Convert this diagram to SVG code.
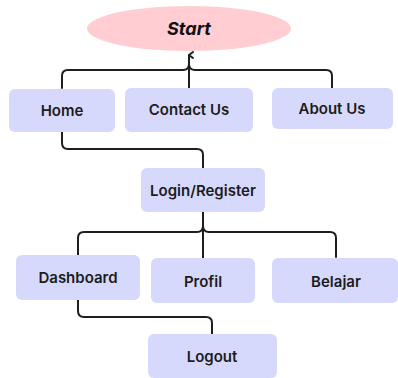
<svg xmlns="http://www.w3.org/2000/svg" width="398" height="378" viewBox="0 0 398 378">
  <style>
    .box { fill: #d7d9fc; }
    .lbl { font-family: Inter, "DejaVu Sans", sans-serif; font-weight: 600; font-size: 15px; fill: #1c1c1c; text-anchor: middle; dominant-baseline: central; }
    .start { font-family: Inter, "DejaVu Sans", sans-serif; font-weight: 700; font-style: italic; font-size: 18px; fill: #111; text-anchor: middle; dominant-baseline: central; }
    .wire { fill: none; stroke: #1e1e1e; stroke-width: 2; stroke-linecap: round; stroke-linejoin: round; }
  </style>
  <defs>
    <marker id="arrow" viewBox="0 0 10 10" refX="5" refY="3" markerWidth="10" markerHeight="10" markerUnits="userSpaceOnUse" orient="auto">
      <path d="M2 7 L5 3 L8 7" fill="none" stroke="#1e1e1e" stroke-width="2" stroke-linecap="round" stroke-linejoin="round"/>
    </marker>
  </defs>
  <rect width="398" height="378" fill="#ffffff"/>

  <g id="connectors">
    <path class="wire" d="M189 88 V55" marker-end="url(#arrow)"/>
    <path class="wire" d="M62 88 V76 Q62 70 68 70 H183 Q189 70 189 64"/>
    <path class="wire" d="M332 88 V76 Q332 70 326 70 H195 Q189 70 189 64"/>
    <path class="wire" d="M62 132 V143 Q62 149 68 149 H197 Q203 149 203 155 V168"/>
    <path class="wire" d="M203 212 V258"/>
    <path class="wire" d="M78 255 V238 Q78 232 84 232 H197 Q203 232 203 226"/>
    <path class="wire" d="M336 257 V238 Q336 232 330 232 H209 Q203 232 203 226"/>
    <path class="wire" d="M78 300 V311 Q78 317 84 317 H206 Q212 317 212 323 V334"/>
  </g>

  <g id="start">
    <ellipse cx="189" cy="28.5" rx="102" ry="22.5" fill="#ffcdd2"/>
    <text class="start" x="189" y="28">Start</text>
  </g>
  <g id="home">
    <rect class="box" x="9" y="89" width="106" height="43" rx="6"/>
    <text class="lbl" x="62" y="110">Home</text>
  </g>
  <g id="contact-us">
    <rect class="box" x="125" y="88" width="128" height="44" rx="6"/>
    <text class="lbl" x="189" y="109">Contact Us</text>
  </g>
  <g id="about-us">
    <rect class="box" x="272" y="88" width="121" height="41" rx="6"/>
    <text class="lbl" x="332" y="108">About Us</text>
  </g>
  <g id="login-register">
    <rect class="box" x="141" y="168" width="124" height="44" rx="6"/>
    <text class="lbl" x="203" y="190">Login/Register</text>
  </g>
  <g id="dashboard">
    <rect class="box" x="16" y="255" width="124" height="45" rx="6"/>
    <text class="lbl" x="78" y="277">Dashboard</text>
  </g>
  <g id="profil">
    <rect class="box" x="151" y="258" width="104" height="45" rx="6"/>
    <text class="lbl" x="203" y="281">Profil</text>
  </g>
  <g id="belajar">
    <rect class="box" x="272" y="258" width="126" height="45" rx="6"/>
    <text class="lbl" x="336" y="281">Belajar</text>
  </g>
  <g id="logout">
    <rect class="box" x="148" y="334" width="129" height="44" rx="6"/>
    <text class="lbl" x="212" y="356">Logout</text>
  </g>
</svg>
